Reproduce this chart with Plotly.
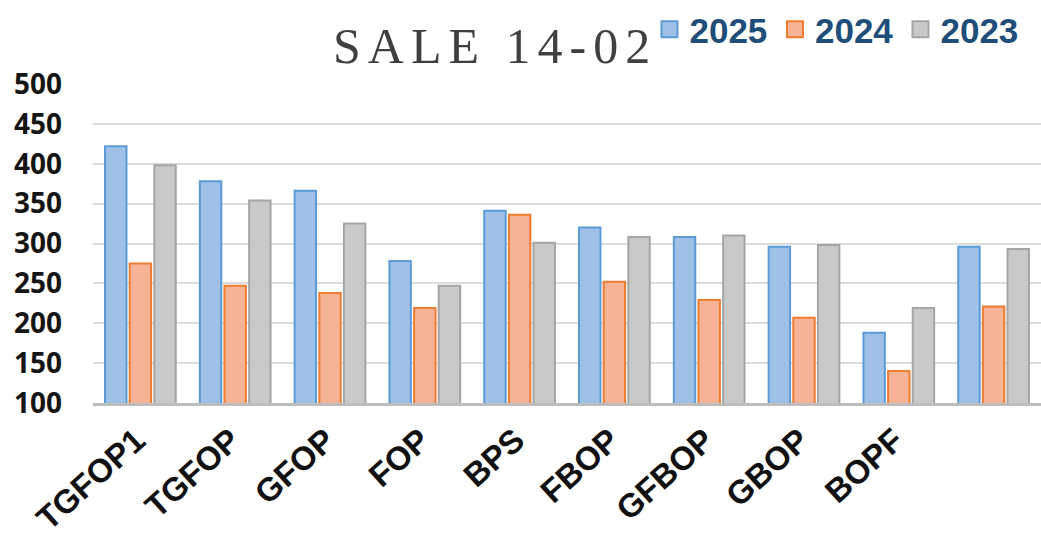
import plotly.graph_objects as go

# Grade labels (the tenth group carries no label)
grades = ["TGFOP1", "TGFOP", "GFOP", "FOP", "BPS", "FBOP", "GFBOP", "GBOP", "BOPF", ""]

# Sale prices per grade and season
sale_2025 = [422, 378, 366, 278, 341, 320, 308, 296, 188, 296]
sale_2024 = [275, 247, 238, 219, 336, 252, 229, 207, 140, 221]
sale_2023 = [398, 354, 325, 247, 301, 308, 310, 298, 219, 293]

y_ticks = [100, 150, 200, 250, 300, 350, 400, 450, 500]

series = [
    ("2025", sale_2025, "#9fc0e7", "#5b9bd5"),
    ("2024", sale_2024, "#f6b396", "#ed7d31"),
    ("2023", sale_2023, "#c9c9c9", "#a5a5a5"),
]

x_pos = list(range(len(grades)))

fig = go.Figure()
for name, vals, fill, edge in series:
    fig.add_trace(go.Bar(
        x=x_pos, y=vals, name=name, showlegend=False,
        marker=dict(color=fill, line=dict(color=edge, width=2)),
    ))
# Square swatches for the legend
for name, vals, fill, edge in series:
    fig.add_trace(go.Scatter(
        x=[None], y=[None], mode="markers", name=name,
        marker=dict(symbol="square", size=16, color=fill, line=dict(color=edge, width=2)),
    ))

fig.update_layout(
    width=1041, height=539,
    margin=dict(l=93, r=0, t=83, b=136),
    paper_bgcolor="white", plot_bgcolor="white",
    barmode="group", bargap=0.22, bargroupgap=0.13,
    font=dict(family="Liberation Sans", color="#111111"),
    legend=dict(
        orientation="h", x=0.587, xanchor="left", y=1.172, yanchor="middle",
        font=dict(family="Liberation Sans", size=35, color="#1f4e79", weight="bold"),
        bgcolor="rgba(0,0,0,0)", itemclick=False,
        entrywidth=80.5, entrywidthmode="pixels",
    ),
    annotations=[dict(
        text="SALE 14-02", xref="paper", yref="paper", x=0.424, y=1.119,
        xanchor="center", yanchor="middle", showarrow=False,
        font=dict(family="Liberation Serif", size=50, color="#404040"),
    )],
)

fig.update_xaxes(
    tickmode="array", tickvals=x_pos, ticktext=grades, range=[-0.5, 9.5],
    tickangle=-42, tickfont=dict(family="Liberation Sans", size=33, weight="bold", color="#111111"),
    ticklabelshift=-4, ticklabelstandoff=2, automargin=False,
    showline=True, linecolor="#bdbdbd", linewidth=3, showgrid=False, ticks="",
)
fig.update_yaxes(
    range=[100, 500], tickmode="array", tickvals=y_ticks,
    tickfont=dict(family="Open Sans", size=28, weight="bold", color="#151515"),
    showgrid=True, gridcolor="#dcdcdc", gridwidth=2, zeroline=False,
    ticklabelstandoff=30, automargin=False,
)

spacing_js = (
    "document.querySelectorAll('.annotation-text').forEach(function(t){"
    "t.style.letterSpacing='7px';});"
)
fig.write_html("out.html", post_script=spacing_js)
